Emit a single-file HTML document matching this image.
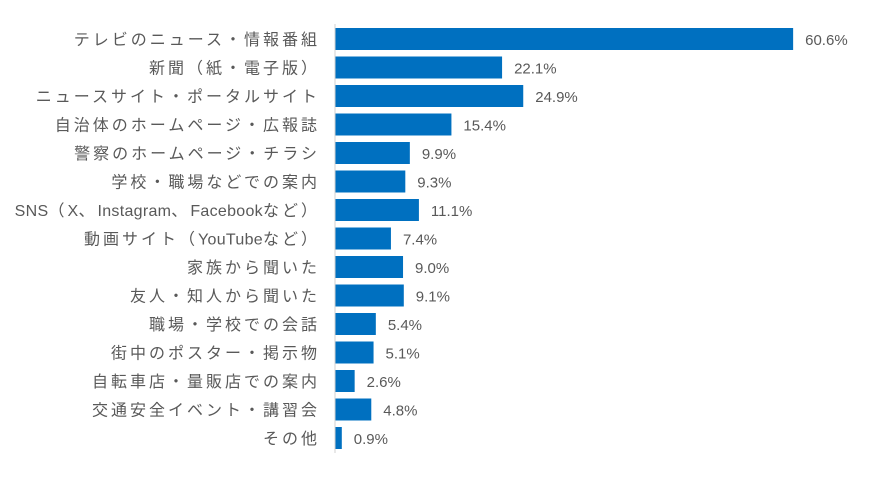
<!DOCTYPE html>
<html><head><meta charset="utf-8"><style>
body{margin:0;background:#fff;width:889px;height:477px;overflow:hidden}
svg text{font-family:"Liberation Sans","Noto Sans CJK JP",sans-serif}
</style></head><body>
<svg id="chart" width="889" height="477" xmlns="http://www.w3.org/2000/svg"></svg>
<script>
const categories=["テレビのニュース・情報番組","新聞（紙・電子版）","ニュースサイト・ポータルサイト","自治体のホームページ・広報誌","警察のホームページ・チラシ","学校・職場などでの案内","SNS（X、Instagram、Facebookなど）","動画サイト（YouTubeなど）","家族から聞いた","友人・知人から聞いた","職場・学校での会話","街中のポスター・掲示物","自転車店・量販店での案内","交通安全イベント・講習会","その他"];
const values=[60.6,22.1,24.9,15.4,9.9,9.3,11.1,7.4,9.0,9.1,5.4,5.1,2.6,4.8,0.9];
const valueLabels=["60.6%","22.1%","24.9%","15.4%","9.9%","9.3%","11.1%","7.4%","9.0%","9.1%","5.4%","5.1%","2.6%","4.8%","0.9%"];
const svg=document.getElementById('chart');
const NS='http://www.w3.org/2000/svg';
const x0=335,pxPer=7.56,y0=39,step=28.5,bh=22;
const xs=v=>x0+v*pxPer;
const ys=i=>y0+i*step;
function mk(t,a,p){const e=document.createElementNS(NS,t);for(const k in a)e.setAttribute(k,a[k]);(p||svg).appendChild(e);return e;}
categories.forEach((c,i)=>{
  const r=mk('rect',{x:x0,y:ys(i)-bh/2,width:xs(values[i])-x0,height:bh,fill:'#0070C0'});
  
  
  const l=mk('text',{x:320,y:ys(i)+6,'text-anchor':'end','font-size':'16',fill:'#595959'});
  const runs=c.match(/[\x00-\x7F]+|[^\x00-\x7F]+/g);
  runs.forEach(s=>{const t=mk('tspan',{},l);t.textContent=s;t.style.letterSpacing=/[\x00-\x7F]/.test(s)?'0.3px':'3px';});
  
  
  const v=mk('text',{x:xs(values[i])+12,y:ys(i)+6,'font-size':'15',fill:'#595959'});
  v.textContent=valueLabels[i];
  
  
});
const ax=mk('line',{x1:x0,x2:x0,y1:24,y2:453,stroke:'#d0d0d0','stroke-width':1});


</script>
</body></html>
